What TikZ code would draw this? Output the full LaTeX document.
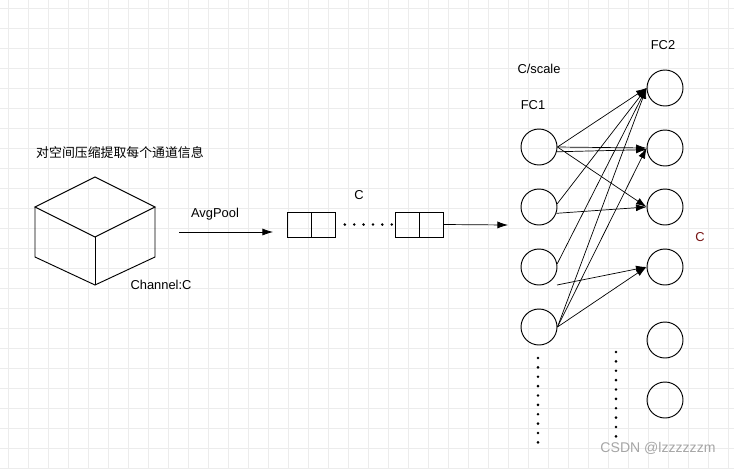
\documentclass[tikz,border=0pt]{standalone}
\usepackage{fontspec}
\setmainfont{Liberation Sans}
\newfontfamily\cjk{Noto Sans CJK SC}
\usetikzlibrary{arrows.meta}
\definecolor{gridgray}{RGB}{236,236,236}
\definecolor{darkred}{RGB}{120,20,20}
\tikzset{
  neuron/.style={circle, draw, thick, minimum size=36\unitpx, inner sep=0pt},
  lab/.style={font=\fontsize{11}{13}\selectfont},
  conn/.style={semithick, -{Latex[length=9pt,width=6pt]}},
  cell/.style={draw, thick, minimum width=24\unitpx, minimum height=25\unitpx, inner sep=0pt},
  dots/.style={line width=2.4pt, line cap=round, dash pattern=on 0pt off 8pt}
}
\newlength{\unitpx}
\setlength{\unitpx}{0.03cm}
\begin{document}
\begin{tikzpicture}[x=0.03cm, y=-0.03cm]
    \useasboundingbox (0,0) rectangle (734,468);
    \fill[white] (0,0) rectangle (734,468);

    % background grid
    \foreach \gx in {8,28,...,728} {
        \draw[gridgray, thin] (\gx,0) -- (\gx,468);
    }
    \foreach \gy in {8,28,...,468} {
        \draw[gridgray, thin] (0,\gy) -- (734,\gy);
    }

    % Cube
    \draw[thick] (35,207) -- (95,177) -- (155,207) -- (95,237) -- cycle;
    \draw[thick] (35,207) -- (35,257) -- (95,285) -- (155,257) -- (155,207);
    \draw[thick] (95,237) -- (95,285);
    \node[lab] (title) at (120,153) {\cjk 对空间压缩提取每个通道信息};
    \node[lab] (chan) at (161,285) {Channel:C};

    % AvgPool arrow
    \coordinate (poolA) at (179,232);
    \coordinate (poolB) at (273,232);
    \draw[conn] (poolA) -- (poolB);
    \node[lab] (pool) at (215,214) {AvgPool};

    % channel vector
    \node[cell] (b1) at (299,224.5) {};
    \node[cell] (b2) at (323,224.5) {};
    \node[cell] (b3) at (407,224.5) {};
    \node[cell] (b4) at (431,224.5) {};
    \draw[dots] ([xshift=8pt]b2.east) -- (b3.west);
    \node[lab] (cvec) at (359,195) {C};
    \coordinate (fcin) at (508,225);
    \draw[conn] (b4.east) -- (fcin);

    % FC1 layer
    \foreach \i/\y in {1/147,2/207,3/267,4/327} {
        \node[neuron] (a\i) at (539,\y) {};
    }
    % FC2 layer
    \foreach \i/\y in {1/88,2/148,3/207,4/267,5/340,6/400} {
        \node[neuron] (c\i) at (665,\y) {};
    }
    \node[lab] (fc1) at (533,105) {FC1};
    \node[lab] (fc2) at (663,45) {FC2};
    \node[lab] (scale) at (539,69) {C/scale};
    \node[lab, text=darkred] (cout) at (700,237) {C};

    % connections
    \draw[conn] (a1.east) -- (c1.west);
    \draw[conn] (a1.east) -- (c2.west);
    \draw[conn] (a1.-15) -- (c2.185);
    \draw[conn] (a1.east) -- (c3.west);
    \draw[conn] (a2.10) -- (c1.west);
    \draw[conn] (a2.-20) -- (c3.west);
    \draw[conn] (a3.10) -- (c1.west);
    \coordinate (a3low) at (557,285);
    \draw[conn] (a3low) -- (c4.west);
    \draw[conn] (a4.east) -- (c1.west);
    \draw[conn] (a4.east) -- (c2.west);
    \draw[conn] (a4.east) -- (c4.west);

    % continuation dots
    \draw[dots] (538,358) -- (538,445);
    \draw[dots] (616,352) -- (616,440);

    \node[lab, text=gray!70, font=\fontsize{12}{14}\selectfont] (mark) at (658,448) {CSDN @lzzzzzzm};
\end{tikzpicture}
\end{document}
